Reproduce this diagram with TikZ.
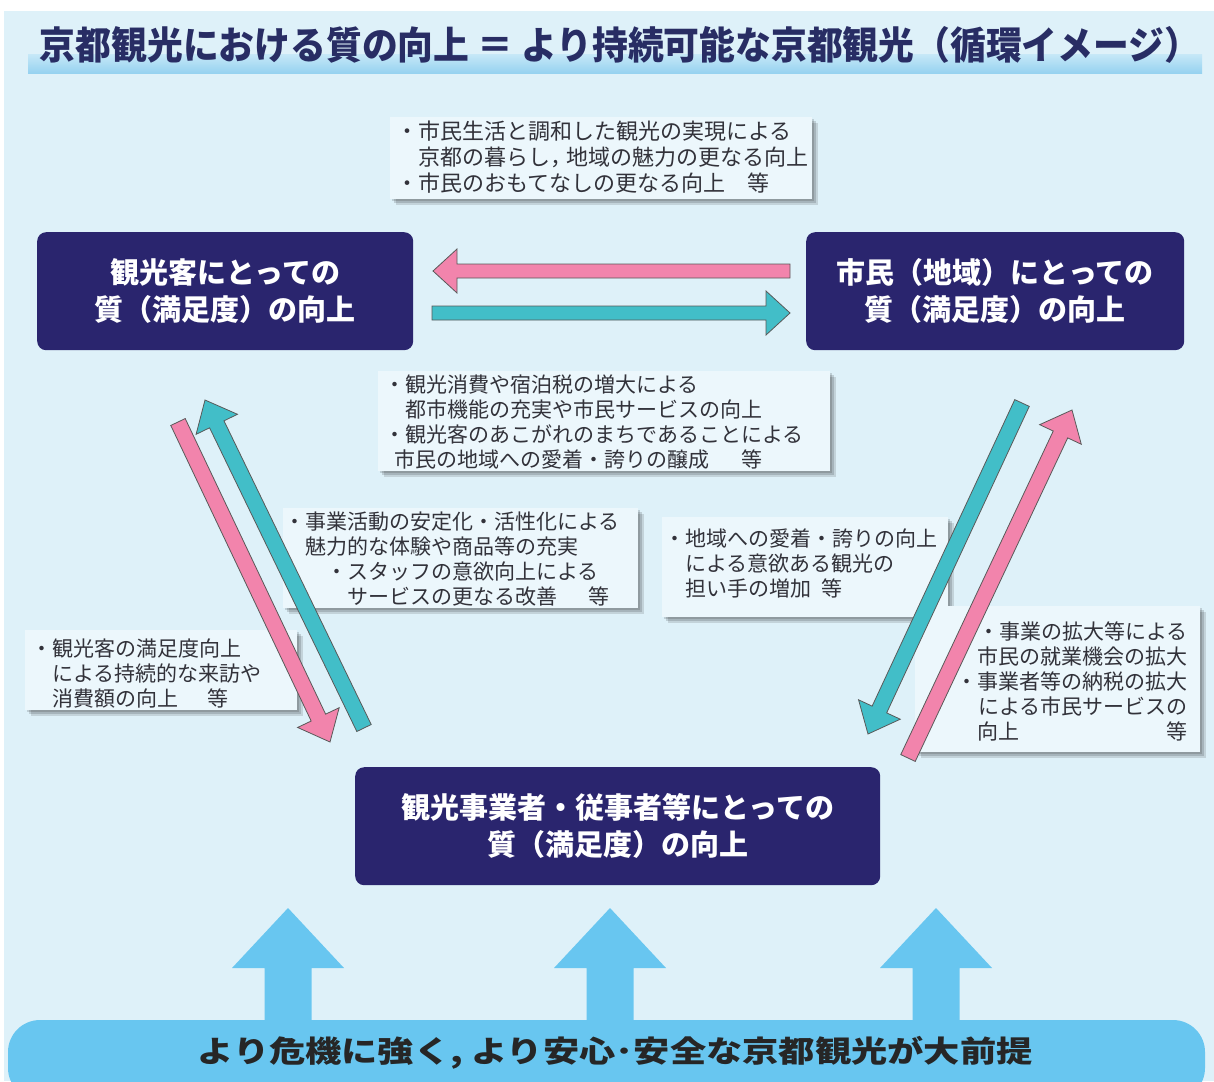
\documentclass[tikz,border=0pt]{standalone}
\usepackage{fontspec}
\newfontfamily\jp{Noto Sans CJK JP}
\usetikzlibrary{calc,shadows}
\definecolor{bg}{RGB}{222,241,249}
\definecolor{boxfill}{RGB}{236,247,252}
\definecolor{navy}{RGB}{42,37,110}
\definecolor{pinkA}{RGB}{242,132,172}
\definecolor{tealA}{RGB}{66,190,200}
\definecolor{sky}{RGB}{104,198,240}
\definecolor{txt}{RGB}{50,50,58}
\definecolor{titlec}{RGB}{40,45,100}
\definecolor{bandtop}{RGB}{196,231,247}
\definecolor{bandbot}{RGB}{150,210,240}

% #1 from, #2 to, #3 style, #4 shaft half width, #5 head half width, #6 head length
\newcommand\fatarrow[6]{%
  \path[#3] let \p1=(#1), \p2=(#2),
    \n1={atan2(\y2-\y1,\x2-\x1)}, \n3={atan2(\y2-\y1,\x2-\x1)+90}, \n4={atan2(\y2-\y1,\x2-\x1)-90},
    \n2={veclen(\x2-\x1,\y2-\y1)-#6} in
    ($(\p1)+(\n3:#4pt)$) -- ($(\p1)+(\n1:\n2)+(\n3:#4pt)$) -- ($(\p1)+(\n1:\n2)+(\n3:#5pt)$)
    -- (\p2) -- ($(\p1)+(\n1:\n2)+(\n4:#5pt)$) -- ($(\p1)+(\n1:\n2)+(\n4:#4pt)$)
    -- ($(\p1)+(\n4:#4pt)$) -- cycle;}

\begin{document}
\begin{tikzpicture}[x=1pt,y=-1pt,
  tbox/.style={fill=boxfill, inner sep=0, anchor=north west,
    general shadow={fill=black, opacity=0.14, shadow xshift=2pt, shadow yshift=-2pt},
    general shadow={fill=black, opacity=0.14, shadow xshift=4pt, shadow yshift=-4pt},
    general shadow={fill=black, opacity=0.12, shadow xshift=6pt, shadow yshift=-6pt}},
  ttext/.style={inner sep=0, align=left, text=txt, anchor=north west,
    font=\jp\fontsize{21}{24.8}\selectfont},
  navybox/.style={fill=navy, rounded corners=9pt, inner sep=0, anchor=north west,
    text=white, align=center, minimum height=118pt,
    font=\jp\bfseries\fontsize{29}{37}\selectfont},
  arrowline/.style={draw=black!65, line width=0.8pt, line join=miter},
  pinkarrow/.style={fill=pinkA, arrowline},
  tealarrow/.style={fill=tealA, arrowline},
  skyarrow/.style={fill=sky, draw=none}]

\useasboundingbox (0,0) rectangle (1214,1081);
\fill[white] (0,0) rectangle (1214,1081);
\fill[bg] (4,11) rectangle (1214,1081);

% title
\shade[top color=bandtop, bottom color=bandbot] (28,55) rectangle (1202,73);
\node[text=titlec] (title) at (620,45)
  {\resizebox*{1160pt}{37pt}{\jp\bfseries 京都観光における質の向上 ＝ より持続可能な京都観光（循環イメージ）}};

% text boxes
\node[tbox, minimum width=422pt, minimum height=82pt] (topbox) at (390,117) {};
\node[ttext, font=\jp\fontsize{22}{26}\selectfont] (toptext) at (396,121)
  {・市民生活と調和した観光の実現による\\
   \hspace*{1em}京都の暮らし，\hspace{-0.25em}地域の魅力の更なる向上\\
   ・市民のおもてなしの更なる向上　等};

\node[tbox, minimum width=452pt, minimum height=100pt] (midbox) at (378,371) {};
\node[ttext] (midtext) at (384,375)
  {・観光消費や宿泊税の増大による\\
   \hspace*{1em}都市機能の充実や市民サービスの向上\\
   ・観光客のあこがれのまちであることによる\\
   \hspace*{0.5em}市民の地域への愛着・誇りの醸成\hspace{1.5em}等};

\node[tbox, minimum width=355pt, minimum height=100pt] (lmbox) at (283,508) {};
\node[ttext] (lmtext) at (284,512)
  {・事業活動の安定化・活性化による\\
   \hspace*{1em}魅力的な体験や商品等の充実\\
   \hspace*{2em}・スタッフの意欲向上による\\
   \hspace*{3em}サービスの更なる改善\hspace{1.5em}等};

\node[tbox, minimum width=286pt, minimum height=100pt] (rmbox) at (662,517) {};
\node[ttext] (rmtext) at (664,529)
  {・地域への愛着・誇りの向上\\
   \hspace*{1em}による意欲ある観光の\\
   \hspace*{1em}担い手の増加\hspace{0.5em}等};

\node[tbox, minimum width=272pt, minimum height=80pt] (lbbox) at (25,630) {};
\node[ttext] (lbtext) at (31,639)
  {・観光客の満足度向上\\
   \hspace*{1em}による持続的な来訪や\\
   \hspace*{1em}消費額の向上\hspace{1.4em}等};

\node[tbox, minimum width=285pt, minimum height=146pt] (rbbox) at (915,606) {};
\node[ttext, align=right, anchor=north east] (rbtext) at (1188,622)
  {・事業の拡大等による\\
   市民の就業機会の拡大\\
   ・事業者等の納税の拡大\\
   による市民サービスの\\
   \makebox[10em][s]{向上\hfill 等}};

% navy boxes
\node[navybox, minimum width=376pt] (tourist) at (37,232) {観光客にとっての\\質（満足度）の向上};
\node[navybox, minimum width=378pt] (citizen) at (806,232) {市民（地域）にとっての\\質（満足度）の向上};
\node[navybox, minimum width=525pt] (business) at (355,767) {観光事業者・従事者等にとっての\\質（満足度）の向上};

% horizontal arrows
\coordinate (hpA) at (790,271); \coordinate (hpB) at (433,271);
\coordinate (htA) at (432,313); \coordinate (htB) at (790,313);
\fatarrow{hpA}{hpB}{pinkarrow}{7}{22}{24}
\fatarrow{htA}{htB}{tealarrow}{7}{22}{24}

% left diagonal arrows
\coordinate (lpA) at (178,422); \coordinate (lpB) at (330,742);
\coordinate (ltA) at (364,728); \coordinate (ltB) at (205,400);
\fatarrow{lpA}{lpB}{pinkarrow}{8}{23}{27}
\fatarrow{ltA}{ltB}{tealarrow}{8}{23}{27}

% right diagonal arrows
\coordinate (rtA) at (1022,403); \coordinate (rtB) at (868,734);
\coordinate (rpA) at (908,758); \coordinate (rpB) at (1072,410);
\fatarrow{rtA}{rtB}{tealarrow}{8}{23}{27}
\fatarrow{rpA}{rpB}{pinkarrow}{8}{23}{27}

% bottom base arrows
\coordinate (b1A) at (288,1030); \coordinate (b1B) at (288,908);
\coordinate (b2A) at (610,1030); \coordinate (b2B) at (610,908);
\coordinate (b3A) at (936,1030); \coordinate (b3B) at (936,908);
\fatarrow{b1A}{b1B}{skyarrow}{23.5}{56}{60}
\fatarrow{b2A}{b2B}{skyarrow}{23.5}{56}{60}
\fatarrow{b3A}{b3B}{skyarrow}{23.5}{56}{60}

\begin{scope}
  \clip (0,0) rectangle (1214,1081);
  \fill[sky, rounded corners=32pt] (8,1020) rectangle (1205,1100);
\end{scope}
\node[text=black!85] (basetext) at (615,1053)
  {\resizebox*{835pt}{33pt}{\jp\bfseries より危機に強く, より安心･安全な京都観光が大前提}};
\end{tikzpicture}
\end{document}
